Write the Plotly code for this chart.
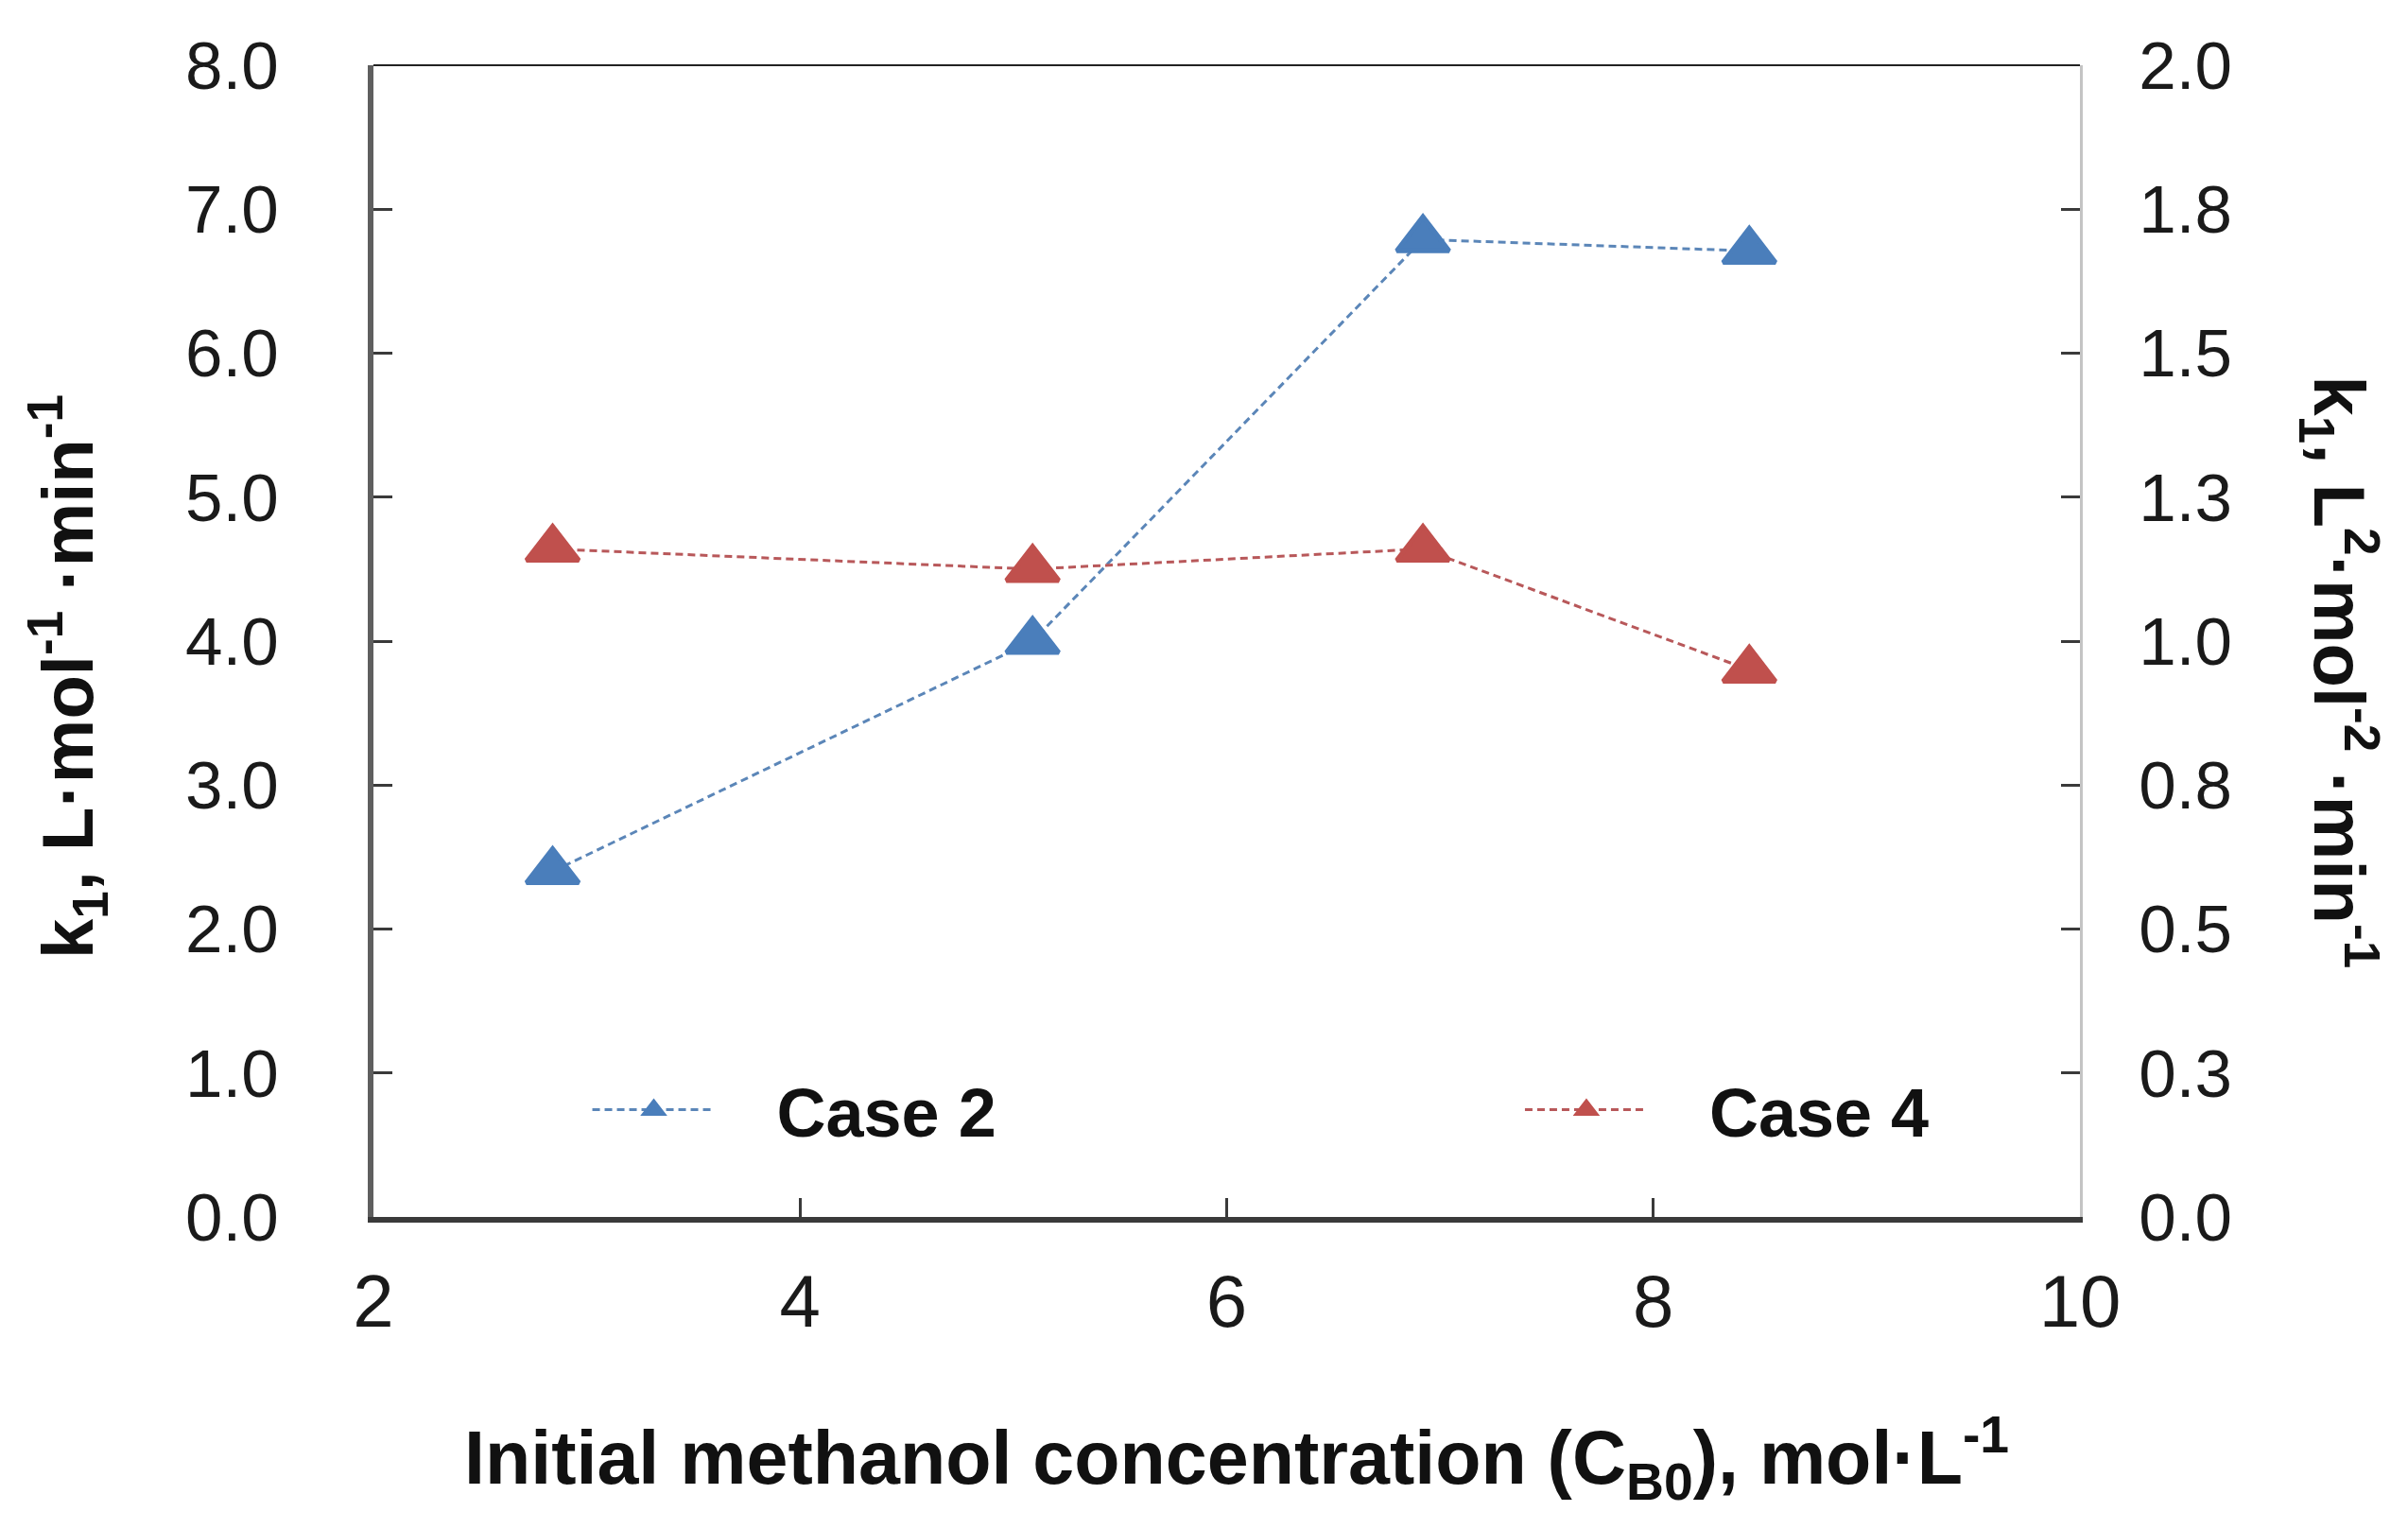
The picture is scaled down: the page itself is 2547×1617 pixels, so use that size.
import plotly.graph_objects as go

# datos
conc_metanol = [2.84, 5.09, 6.92, 8.45]
k1_case2 = [2.40, 4.00, 6.79, 6.71]      # eje izquierdo
k1_case4 = [1.16, 1.125, 1.16, 0.95]    # eje derecho

ticks_izq = [0, 1, 2, 3, 4, 5, 6, 7, 8]
ticks_der = [0, 0.25, 0.5, 0.75, 1.0, 1.25, 1.5, 1.75, 2.0]
etiquetas_der = ["0.0", "0.3", "0.5", "0.8", "1.0", "1.3", "1.5", "1.8", "2.0"]
ticks_x = [2, 4, 6, 8, 10]

AZUL = "#4A7EBB"
ROJO = "#C0504D"
FUENTE = "Liberation Sans"
NBSP = "\u00a0\u00a0\u00a0"

fig = go.Figure()

fig.add_trace(go.Scatter(
    x=conc_metanol, y=k1_case2, name=NBSP + "Case 2", mode="lines+markers",
    line=dict(color="#5B86B8", width=3, dash="8px,5px"),
    marker=dict(symbol="triangle-up", size=48, color=AZUL, line=dict(color=AZUL, width=5)),
    yaxis="y", legend="legend",
))
fig.add_trace(go.Scatter(
    x=conc_metanol, y=k1_case4, name=NBSP + "Case 4", mode="lines+markers",
    line=dict(color="#B8585A", width=3, dash="8px,5px"),
    marker=dict(symbol="triangle-up", size=48, color=ROJO, line=dict(color=ROJO, width=5)),
    yaxis="y2", legend="legend2",
))

fig.update_layout(
    width=2547, height=1617,
    margin=dict(l=387, r=355, t=61, b=338),
    plot_bgcolor="white", paper_bgcolor="white",
    font=dict(family=FUENTE, color="#1a1a1a"),
    xaxis=dict(
        range=[2, 10], tickvals=ticks_x, showgrid=False, zeroline=False,
        showline=True, linewidth=6, linecolor="#3a3a3a",
        ticks="inside", ticklen=20, tickwidth=3, tickcolor="#3a3a3a",
        tickfont=dict(size=78), ticklabelstandoff=16,
    ),
    yaxis=dict(
        range=[0, 8], tickvals=ticks_izq, tickformat=".1f", showgrid=False, zeroline=False,
        showline=True, linewidth=6, linecolor="#5f5f5f",
        ticks="inside", ticklen=20, tickwidth=3, tickcolor="#3a3a3a",
        tickfont=dict(size=71), ticklabelstandoff=80,
    ),
    yaxis2=dict(
        range=[0, 2], tickvals=ticks_der, ticktext=etiquetas_der, overlaying="y", side="right",
        showgrid=False, zeroline=False,
        showline=True, linewidth=3, linecolor="#c4c4c4",
        ticks="inside", ticklen=20, tickwidth=3, tickcolor="#3a3a3a",
        tickfont=dict(size=71), ticklabelstandoff=45,
    ),
    legend=dict(
        x=0.1255, y=0.093, xanchor="left", yanchor="middle", orientation="h",
        bgcolor="rgba(0,0,0,0)", itemwidth=130, itemsizing="trace",
        font=dict(size=72, weight="bold", color="#111"),
    ),
    legend2=dict(
        x=0.672, y=0.093, xanchor="left", yanchor="middle", orientation="h",
        bgcolor="rgba(0,0,0,0)", itemwidth=130, itemsizing="trace",
        font=dict(size=72, weight="bold", color="#111"),
    ),
    showlegend=True,
)

# borde superior del área de trazado
fig.add_shape(type="line", xref="paper", yref="paper", x0=0, x1=1, y0=1, y1=1,
              line=dict(color="#222", width=2))

# títulos de ejes
fig.add_annotation(
    text="k<sub>1</sub>, L·mol<sup>-1</sup> ·min<sup>-1</sup>",
    xref="paper", yref="paper", x=-0.1795, y=0.4688, textangle=-90,
    xanchor="center", yanchor="middle",
    showarrow=False, font=dict(size=76, weight="bold", color="#111"),
)
fig.add_annotation(
    text="k<sub>1</sub>, L<sup>2</sup>·mol<sup>-2</sup> ·min<sup>-1</sup>",
    xref="paper", yref="paper", x=1.152, y=0.473, textangle=90,
    xanchor="center", yanchor="middle",
    showarrow=False, font=dict(size=76, weight="bold", color="#111"),
)
fig.add_annotation(
    text="Initial methanol concentration (C<sub>B0</sub>), mol·L<sup>-1</sup>",
    xref="paper", yref="paper", x=0.506, y=-0.2094, xanchor="center", yanchor="middle",
    showarrow=False, font=dict(size=79, weight="bold", color="#111"),
)

fig.write_html("out.html")
